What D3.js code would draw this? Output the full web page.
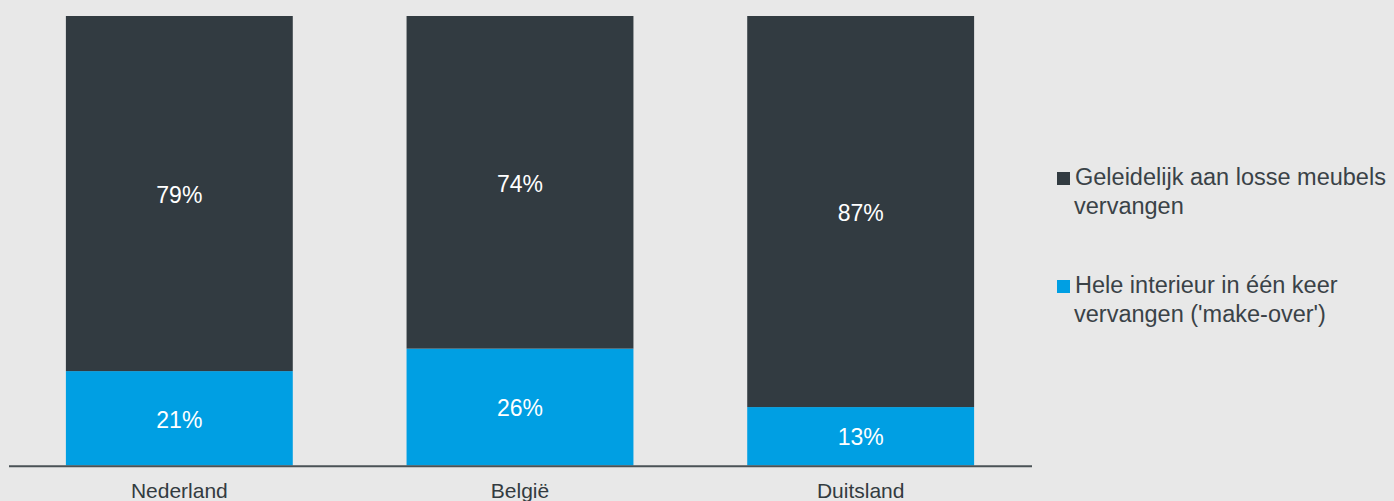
<!DOCTYPE html>
<html>
<head>
<meta charset="utf-8">
<script src="https://cdn.jsdelivr.net/npm/d3@7"></script>
<style>
  html, body { margin: 0; padding: 0; background: #e8e8e8; }
  svg { display: block; font-family: Arial, "Liberation Sans", sans-serif; }
</style>
</head>
<body>
<svg id="chart" width="1394" height="501"></svg>
<script>
// Countries on the x axis
const countries = ["Nederland", "België", "Duitsland"];
// Share (%) replacing the whole interior at once
const makeOver = [21, 26, 13];
// Share (%) replacing single pieces of furniture gradually
const gradual = [79, 74, 87];
// Legend entries, top to bottom, split over two lines each
const legendLabels = [
  ["Geleidelijk aan losse meubels", "vervangen"],
  ["Hele interieur in één keer", "vervangen ('make-over')"]
];

const colors = { gradual: "#323b41", makeOver: "#009fe3" };

const svg = d3.select("#chart");

const x = d3.scaleBand()
  .domain(countries)
  .range([9, 1031])
  .paddingInner(0.334)
  .paddingOuter(0.167);

const y = d3.scaleLinear().domain([0, 100]).range([465.5, 16]);

const rows = countries.map((c, i) => ({ country: c, makeOver: makeOver[i], gradual: gradual[i] }));
const stacked = d3.stack().keys(["makeOver", "gradual"])(rows);

const layer = svg.selectAll("g.layer")
  .data(stacked)
  .join("g")
  .attr("class", "layer")
  .attr("fill", d => colors[d.key]);

layer.selectAll("rect")
  .data(d => d)
  .join("rect")
  .attr("x", d => x(d.data.country))
  .attr("width", x.bandwidth())
  .attr("y", d => y(d[1]))
  .attr("height", d => y(d[0]) - y(d[1]));

layer.selectAll("text")
  .data(d => d.map(v => ({ v, key: d.key })))
  .join("text")
  .attr("x", d => x(d.v.data.country) + x.bandwidth() / 2)
  .attr("y", d => (y(d.v[0]) + y(d.v[1])) / 2)
  .attr("dy", "0.4em")
  .attr("text-anchor", "middle")
  .attr("fill", "#ffffff")
  .attr("font-size", 23)
  .text(d => d.v.data[d.key] + "%");

// Baseline axis with category labels
const xAxis = svg.append("g")
  .attr("transform", `translate(0,${y(0) + 0.8})`)
  .call(d3.axisBottom(x).tickSize(0).tickPadding(0).tickSizeOuter(0));
xAxis.select(".domain")
  .attr("stroke", "#4a5256")
  .attr("stroke-width", 2)
  .attr("d", `M9,0H1032`);
xAxis.selectAll(".tick text")
  .attr("y", 32)
  .attr("dy", 0)
  .attr("fill", "#333b40")
  .attr("font-size", 21)
  .attr("font-family", "Arial, 'Liberation Sans', sans-serif");

// Legend
const legendItems = [
  { key: "gradual", lines: legendLabels[0], baseline: 185 },
  { key: "makeOver", lines: legendLabels[1], baseline: 293 }
];
const legend = svg.append("g");
const item = legend.selectAll("g")
  .data(legendItems)
  .join("g");
item.append("rect")
  .attr("x", 1057)
  .attr("y", d => d.baseline - 13)
  .attr("width", 13)
  .attr("height", 13)
  .attr("fill", d => colors[d.key]);
item.append("text")
  .attr("x", 1075)
  .attr("y", d => d.baseline)
  .attr("fill", "#3a4247")
  .attr("font-size", 23.5)
  .selectAll("tspan")
  .data(d => d.lines)
  .join("tspan")
  .attr("x", (d, i) => i === 0 ? 1075 : 1074)
  .attr("dy", (d, i) => i === 0 ? 0 : 28.5)
  .text(d => d);
</script>
</body>
</html>
